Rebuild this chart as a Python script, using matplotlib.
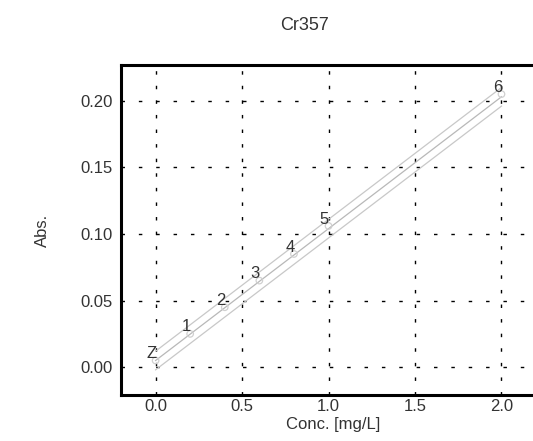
import matplotlib
matplotlib.use("Agg")
import matplotlib.pyplot as plt
import numpy as np

plt.rcParams["font.family"] = ["Liberation Sans", "DejaVu Sans"]

# calibration standards
labels = ["Z", "1", "2", "3", "4", "5", "6"]
conc = [0.0, 0.2, 0.4, 0.6, 0.8, 1.0, 2.0]
absb = [0.005, 0.025, 0.045, 0.065, 0.085, 0.106, 0.205]

# fit line and band
fit_x = [0.0, 2.0]
fit_mid = [0.005, 0.203]
band = 0.007

xticks = [0.0, 0.5, 1.0, 1.5, 2.0]
yticks = [0.00, 0.05, 0.10, 0.15, 0.20]

fig = plt.figure(figsize=(5.33, 4.41), dpi=100)
ax = fig.add_axes([0.227, 0.104, 0.795, 0.749])

ax.set_xlim(-0.2, 2.25)
ax.set_ylim(-0.021, 0.227)

grid_kw = dict(color="black", linewidth=1.0, dashes=(2.5, 8))
for x in xticks:
    ax.axvline(x, **grid_kw, zorder=1)
grid_kw["dashes"] = (2.5, 10)
for y in yticks:
    ax.axhline(y, **grid_kw, zorder=1)

mid = np.array(fit_mid)
ax.plot(fit_x, mid, color="#b8b8b8", lw=0.9, zorder=2)
ax.plot(fit_x, mid + band, color="#c8c8c8", lw=0.9, zorder=2)
ax.plot(fit_x, mid - band, color="#c8c8c8", lw=0.9, zorder=2)

ax.scatter(conc, absb, s=22, facecolors="none", edgecolors="#d0d0d0",
           linewidths=0.9, zorder=3)
for lab, x, y in zip(labels, conc, absb):
    ax.annotate(lab, (x, y), xytext=(-3, 5), textcoords="offset points",
                ha="center", va="center", fontsize=12, color="#333333",
                zorder=4)

ax.set_xticks(xticks)
ax.set_xticklabels(["%.1f" % v for v in xticks])
ax.set_yticks(yticks)
ax.set_yticklabels(["%.2f" % v for v in yticks])
ax.tick_params(length=0, labelsize=12, colors="#333333", pad=6)
ax.tick_params(axis="x", pad=3)

for s in ["left", "bottom", "top"]:
    ax.spines[s].set_linewidth(2.2)
    ax.spines[s].set_color("black")
ax.spines["right"].set_visible(False)

ax.set_xlabel("Conc. [mg/L]", fontsize=12, color="#333333", labelpad=2)
ax.set_ylabel("Abs.", fontsize=12, color="#333333", labelpad=22)
fig.text(0.572, 0.943, "Cr357", ha="center", va="center", fontsize=13,
         color="#333333")

fig.savefig("out.png", dpi=100)
